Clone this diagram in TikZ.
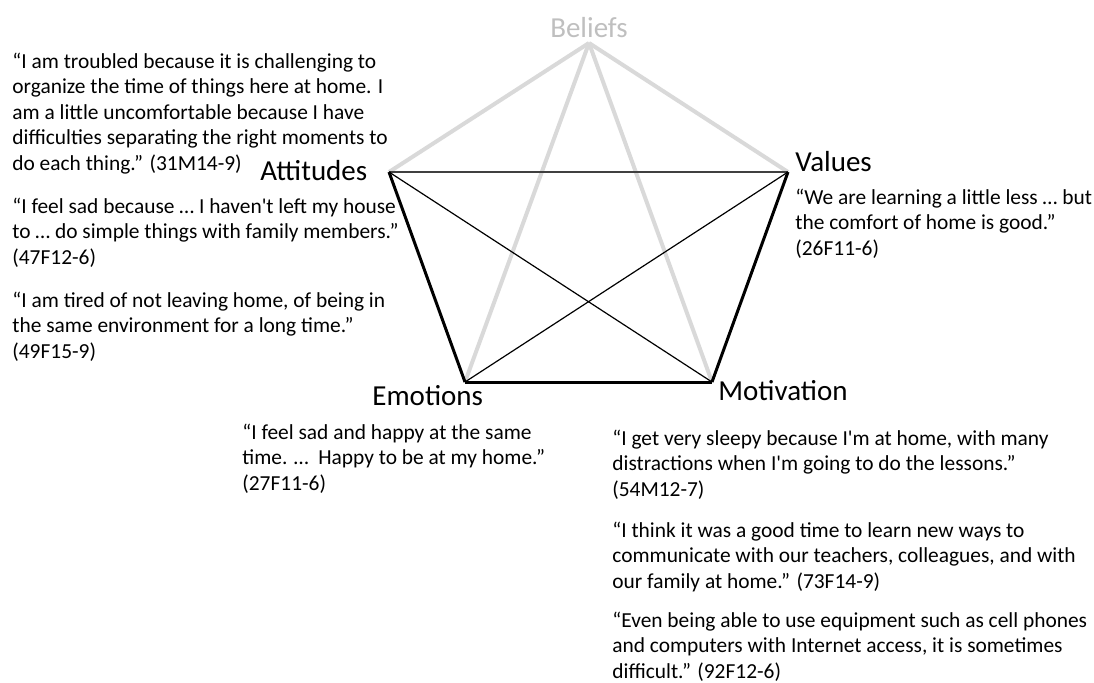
\documentclass[tikz,border=0pt]{standalone}
\usepackage{fontspec}
\setmainfont{Carlito}[Ligatures=TeXOff]
\usepackage{tikz}
\usetikzlibrary{positioning}

\definecolor{beliefgray}{HTML}{D9D9D9}
\definecolor{beliefText}{HTML}{BFBFBF}
\definecolor{edgedark}{HTML}{404040}

\newcommand{\quotebox}[1]{\begin{tabular}[t]{@{}l@{}}#1\end{tabular}}

\tikzset{
  vlabel/.style={font=\fontsize{14.5}{17}\selectfont, inner sep=0pt},
  quote/.style={font=\fontsize{10.7}{12.8}\selectfont, inner sep=0pt, anchor=base west},
  graylink/.style={beliefgray, line width=2pt},
  side/.style={black, line width=1.5pt},
  diag/.style={black, line width=0.6pt}
}

\begin{document}
\begin{tikzpicture}[x=0.5pt,y=-0.5pt]
            \useasboundingbox (0,0) rectangle (1094,682);

            % corners of the pentagon
            \coordinate (bel) at (589,43);
            \coordinate (att) at (389,172);
            \coordinate (val) at (788,172);
            \coordinate (emo) at (465,382);
            \coordinate (mot) at (712,382);

            \draw[graylink] (bel) -- (att);
            \draw[graylink] (bel) -- (val);
            \draw[graylink] (bel) -- (emo);
            \draw[graylink] (bel) -- (mot);

            \draw[edgedark, line width=1pt] (att) -- (val);
            \draw[side] (att) -- (emo);
            \draw[side] (val) -- (mot);
            \draw[side] (emo) -- (mot);
            \draw[diag] (att) -- (mot);
            \draw[diag] (val) -- (emo);

            \node(lbel) [vlabel, anchor=base, text=beliefText] at (589,37) {Beliefs};
            \node(latt) [vlabel, anchor=base west] at (260,180) {Attitudes};
            \node(lval) [vlabel, anchor=base west] at (795,171) {Values};
            \node(lemo) [vlabel, anchor=base west] at (372,405) {Emotions};
            \node(lmot) [vlabel, anchor=base west] at (718,400) {Motivation};

            % quote blocks, placed at the baseline of their first line
            \node(qatt1) [quote] at (12,68) {\quotebox{“I am troubled because it is challenging to\\organize the time of things here at home. I\\am a little uncomfortable because I have\\difficulties separating the right moments to\\do each thing.” (31M14-9)}};
            \node(qatt2) [quote] at (12,213) {\quotebox{“I feel sad because … I haven't left my house\\to … do simple things with family members.”\\(47F12-6)}};
            \node(qatt3) [quote] at (12,307) {\quotebox{“I am tired of not leaving home, of being in\\the same environment for a long time.”\\(49F15-9)}};
            \node(qval) [quote] at (795,204) {\quotebox{“We are learning a little less … but\\the comfort of home is good.”\\(26F11-6)}};
            \node(qemo) [quote] at (242,439) {\quotebox{“I feel sad and happy at the same\\time. …\ \ Happy to be at my home.”\\(27F11-6)}};
            \node(qmot1) [quote] at (612,445) {\quotebox{“I get very sleepy because I'm at home, with many\\distractions when I'm going to do the lessons.”\\(54M12-7)}};
            \node(qmot2) [quote] at (612,537) {\quotebox{“I think it was a good time to learn new ways to\\communicate with our teachers, colleagues, and with\\our family at home.” (73F14-9)}};
            \node(qmot3) [quote] at (612,627) {\quotebox{“Even being able to use equipment such as cell phones\\and computers with Internet access, it is sometimes\\difficult.” (92F12-6)}};
        \end{tikzpicture}
\end{document}
